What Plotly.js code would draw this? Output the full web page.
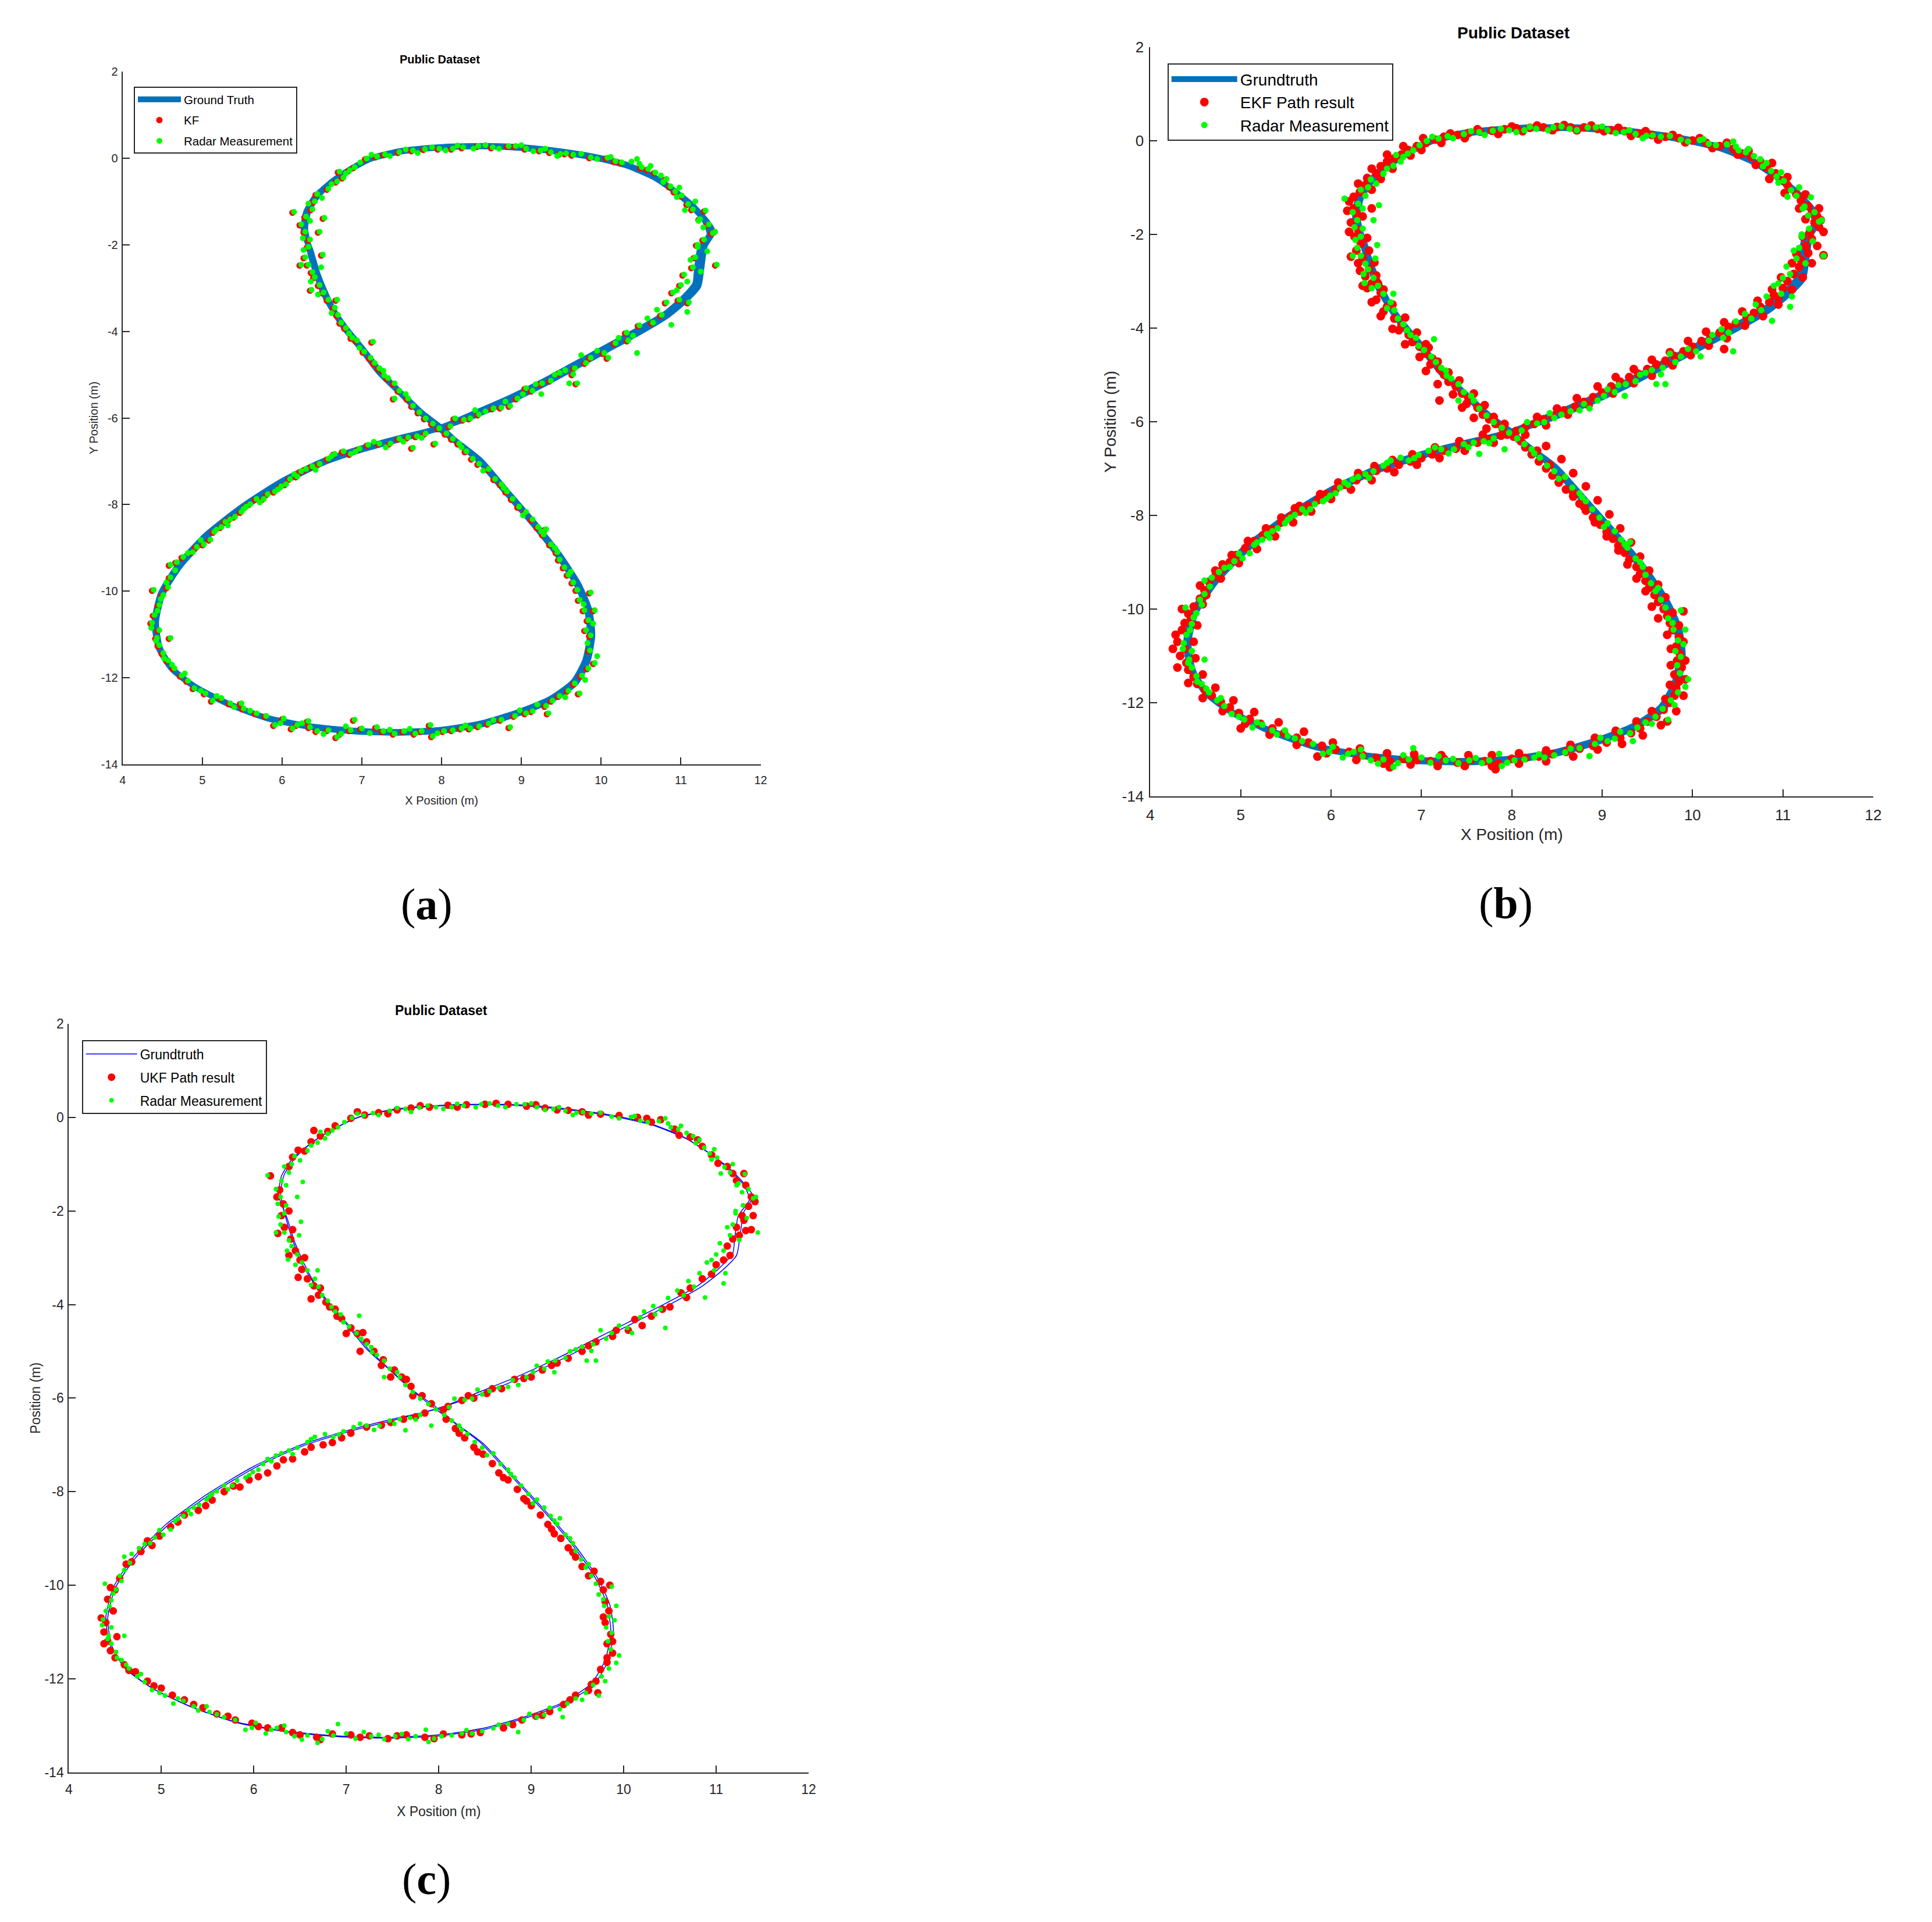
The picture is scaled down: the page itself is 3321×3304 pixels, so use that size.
<!DOCTYPE html>
<html>
<head>
<meta charset="utf-8">
<script src="https://cdn.plot.ly/plotly-3.0.1.min.js"></script>
<style>html,body{margin:0;padding:0;background:#fff}#chart{width:3321px;height:3304px}</style>
</head>
<body>
<div id="chart"></div>
<script>
// ---------------- DATA ----------------
const xTickVals = [4,5,6,7,8,9,10,11,12];
const xTickText = ['4','5','6','7','8','9','10','11','12'];
const yTickVals = [-14,-12,-10,-8,-6,-4,-2,0,2];
const yTickText = ['-14','-12','-10','-8','-6','-4','-2','0','2'];

// Ground truth path, lap 1 and lap 2 (x, y in metres)
const gtLap1 = [[7.97,-6.24],[7.72,-5.85],[7.47,-5.40],[7.22,-4.95],[7.00,-4.42],[6.80,-3.97],[6.66,-3.58],[6.52,-3.12],[6.42,-2.62],[6.34,-2.10],[6.29,-1.62],[6.33,-1.22],[6.45,-0.86],[6.62,-0.55],[6.85,-0.26],[7.14,0.01],[7.47,0.16],[7.80,0.23],[8.14,0.27],[8.59,0.28],[9.03,0.25],[9.48,0.16],[9.92,0.03],[10.30,-0.14],[10.65,-0.42],[10.92,-0.76],[11.12,-1.08],[11.30,-1.45],[11.36,-1.76],[11.24,-2.10],[11.20,-2.60],[11.18,-2.90],[11.02,-3.25],[10.80,-3.60],[10.45,-3.98],[10.05,-4.38],[9.65,-4.78],[9.25,-5.18],[8.85,-5.54],[8.40,-5.90],[7.97,-6.24],[7.50,-6.45],[7.00,-6.70],[6.50,-7.01],[6.00,-7.46],[5.50,-8.05],[5.05,-8.70],[4.70,-9.40],[4.48,-10.05],[4.40,-10.70],[4.45,-11.30],[4.62,-11.80],[4.90,-12.20],[5.30,-12.58],[5.80,-12.92],[6.35,-13.12],[6.90,-13.22],[7.45,-13.25],[8.00,-13.20],[8.50,-13.05],[8.95,-12.80],[9.35,-12.50],[9.65,-12.10],[9.80,-11.60],[9.86,-11.00],[9.82,-10.40],[9.68,-9.80],[9.45,-9.15],[9.15,-8.45],[8.80,-7.70],[8.45,-6.95],[8.15,-6.50],[7.97,-6.24]];
const gtLap2 = [[7.99,-6.22],[7.75,-5.88],[7.50,-5.44],[7.25,-4.98],[7.03,-4.45],[6.83,-4.00],[6.68,-3.62],[6.55,-3.15],[6.44,-2.65],[6.36,-2.15],[6.27,-1.68],[6.30,-1.25],[6.42,-0.88],[6.60,-0.58],[6.82,-0.30],[7.10,-0.02],[7.45,0.14],[7.80,0.22],[8.14,0.26],[8.59,0.27],[9.03,0.23],[9.48,0.14],[9.92,0.01],[10.32,-0.17],[10.68,-0.46],[10.95,-0.80],[11.16,-1.12],[11.34,-1.50],[11.40,-1.70],[11.30,-2.02],[11.26,-2.50],[11.22,-2.95],[11.06,-3.28],[10.84,-3.62],[10.48,-4.02],[10.08,-4.42],[9.68,-4.82],[9.28,-5.22],[8.88,-5.58],[8.43,-5.93],[7.99,-6.22],[7.52,-6.47],[7.02,-6.72],[6.52,-7.03],[6.02,-7.48],[5.52,-8.07],[5.07,-8.72],[4.72,-9.42],[4.50,-10.07],[4.42,-10.72],[4.47,-11.32],[4.64,-11.82],[4.92,-12.22],[5.32,-12.60],[5.82,-12.94],[6.37,-13.14],[6.92,-13.24],[7.47,-13.27],[8.02,-13.22],[8.52,-13.07],[8.97,-12.82],[9.37,-12.52],[9.68,-12.12],[9.83,-11.62],[9.89,-11.02],[9.85,-10.42],[9.71,-9.82],[9.48,-9.17],[9.18,-8.47],[8.83,-7.72],[8.48,-6.97],[8.17,-6.52],[7.99,-6.22]];

// Radar measurements (shared by all three panels)
const radarPts = [[7.06,-0.01],[7.19,0.04],[7.29,0.09],[7.47,0.14],[7.64,0.18],[7.79,0.21],[7.97,0.22],[8.14,0.22],[8.27,0.25],[8.46,0.28],[8.64,0.25],[8.84,0.28],[8.93,0.28],[9.06,0.22],[9.24,0.18],[9.37,0.14],[9.49,0.10],[9.56,0.11],[9.65,0.08],[9.87,0.02],[10.08,0.01],[10.18,-0.07],[10.26,-0.10],[10.48,-0.13],[10.51,-0.21],[10.59,-0.25],[10.68,-0.33],[10.82,-0.48],[10.87,-0.65],[10.93,-0.77],[11.01,-0.86],[11.09,-1.06],[11.15,-1.18],[11.24,-1.41],[11.31,-1.21],[11.35,-1.53],[11.40,-1.73],[11.43,-1.70],[11.29,-1.88],[11.21,-2.00],[11.18,-2.29],[11.21,-2.05],[11.45,-2.46],[11.15,-2.52],[11.04,-2.69],[11.00,-2.93],[10.90,-3.10],[11.10,-3.33],[10.98,-3.27],[10.82,-3.33],[10.76,-3.62],[10.65,-3.80],[10.48,-3.86],[10.32,-4.03],[10.34,-4.21],[10.18,-4.27],[10.04,-4.50],[10.09,-4.61],[9.87,-4.61],[9.81,-4.73],[9.67,-4.85],[9.65,-4.99],[9.70,-5.20],[9.48,-4.96],[9.37,-5.14],[9.26,-5.20],[9.14,-5.37],[9.06,-5.31],[8.95,-5.55],[8.86,-5.72],[8.75,-5.76],[8.65,-5.78],[8.47,-5.92],[8.36,-6.01],[8.28,-6.04],[8.17,-6.01],[8.11,-6.19],[10.45,-4.50],[10.88,-3.85],[11.08,-3.55],[10.95,-0.90],[11.22,-1.45],[9.25,-5.45],[9.60,-5.20],
[7.97,-6.24],[7.89,-6.13],[7.80,-6.01],[7.72,-5.87],[7.64,-5.72],[7.58,-5.55],[7.47,-5.37],[7.41,-5.20],[7.33,-5.08],[7.27,-4.91],[7.22,-4.85],[7.16,-4.73],[7.11,-4.61],[7.03,-4.47],[6.94,-4.21],[6.88,-4.15],[6.80,-3.92],[6.74,-3.80],[6.70,-3.62],[6.66,-3.45],[6.58,-3.27],[6.52,-3.10],[6.47,-2.93],[6.41,-2.75],[6.38,-2.63],[6.33,-2.46],[6.29,-2.29],[6.33,-2.05],[6.35,-1.88],[6.29,-1.70],[6.24,-1.53],[6.30,-1.35],[6.38,-1.18],[6.41,-1.00],[6.44,-0.83],[6.58,-0.71],[6.69,-0.54],[6.77,-0.45],[6.85,-0.28],[6.72,-0.31],[6.91,-0.21],
[6.15,-1.24],[6.53,-1.38],[6.51,-2.23],[6.49,-2.52],[6.47,-1.70],[6.37,-3.04],[7.14,-4.24],[6.69,-3.27],[7.41,-5.55],[6.24,-2.46],
[8.06,-6.36],[8.14,-6.48],[8.22,-6.59],[8.31,-6.77],[8.39,-6.94],[8.47,-7.06],[8.59,-7.18],[8.67,-7.41],[8.75,-7.53],[8.82,-7.70],[8.89,-7.87],[8.97,-8.05],[9.06,-8.17],[9.14,-8.34],[9.21,-8.52],[9.28,-8.69],[9.31,-8.57],[9.37,-8.92],[9.45,-9.10],[9.48,-9.27],[9.54,-9.45],[9.59,-9.62],[9.65,-9.80],[9.70,-9.97],[9.73,-10.20],[9.79,-10.44],[9.84,-10.67],[9.87,-10.03],[9.92,-10.44],[9.81,-10.90],[9.87,-11.02],[9.86,-11.37],[9.92,-11.66],[9.84,-11.78],[9.76,-11.95],[9.67,-12.13],[9.73,-12.36],[9.59,-12.30],[9.48,-12.42],[9.39,-12.53],[9.31,-12.65],[9.34,-12.82],[9.14,-12.77],[9.06,-12.82],[8.92,-12.88],[8.86,-13.14],[8.75,-12.97],[8.59,-13.06],[8.47,-13.12],[8.36,-13.17],[8.25,-13.17],[8.14,-13.21],[8.03,-13.23],[7.89,-13.35],[7.86,-13.09],[7.75,-13.23],[7.67,-13.29],[7.53,-13.23],[7.41,-13.29],[7.27,-13.23],[7.19,-13.14],[7.00,-13.17],[6.91,-12.97],[6.86,-13.21],[6.74,-13.29],[6.69,-13.37],[6.58,-13.21],[6.44,-13.23],[6.35,-13.14],[6.33,-13.00],[6.19,-13.09],[6.13,-13.17],[6.02,-12.94],[5.91,-13.09],[5.80,-12.88],[5.68,-12.82],[5.52,-12.71],[5.49,-12.59],[5.35,-12.59],[5.24,-12.47],[5.13,-12.53],[5.04,-12.36],[4.90,-12.24],[4.82,-12.07],[4.74,-11.95],[4.65,-11.78],[4.57,-11.60],[4.51,-11.43],[4.46,-11.25],[4.43,-11.08],[4.46,-10.90],[4.37,-10.73],[4.60,-11.08],[4.40,-10.55],[4.46,-10.32],[4.39,-9.97],[4.51,-10.09],[4.57,-9.91],[4.60,-9.68],[4.60,-9.39],[4.68,-9.33],[4.76,-9.21],[4.88,-9.10],[4.93,-8.98],[5.02,-8.92],[5.10,-8.81],[5.15,-8.63],[5.24,-8.52],[5.29,-8.40],[5.35,-8.34],[5.41,-8.28],[5.49,-8.17],[5.55,-8.05],[5.60,-7.99],[5.68,-7.87],[5.77,-7.87],[5.82,-7.76],[5.91,-7.70],[5.99,-7.58],[6.05,-7.53],[6.10,-7.41],[6.19,-7.35],[6.24,-7.23],[6.30,-7.18],[6.38,-7.12],[6.47,-7.06],[6.58,-6.94],[6.66,-6.83],[6.77,-6.77],[6.86,-6.83],[6.97,-6.71],[7.08,-6.62],[7.22,-6.59],[7.36,-6.59],[7.47,-6.48],[7.58,-6.45],[7.69,-6.42],[7.80,-6.36],[7.64,-6.69],[7.92,-6.59],
[7.12,0.08],[7.35,0.05],[7.55,0.20],[7.70,0.12],[7.88,0.25],[8.05,0.18],[8.20,0.29],[8.40,0.22],[8.55,0.30],[8.72,0.22],[9.00,0.30],[9.15,0.16],[9.30,0.22],[9.45,0.05],[9.75,0.10],[9.95,-0.02],[10.12,0.03],[10.38,-0.08],[10.45,-0.02],[10.62,-0.18],[10.75,-0.40],[10.78,-0.55],[10.98,-0.68],[11.05,-1.20],[11.18,-1.00],[11.28,-1.60],[11.33,-2.15],[11.12,-2.35],[11.25,-2.62],[11.08,-2.85],[10.95,-3.05],[10.70,-3.50],[10.58,-3.70],[10.40,-4.10],[10.22,-4.15],[9.95,-4.45],[9.75,-4.55],[9.55,-4.90],[9.42,-5.00],[9.18,-5.22],[9.02,-5.45],[8.80,-5.62],[8.55,-5.85],[8.42,-5.82],
[6.97,-4.38],[6.84,-4.05],[6.62,-3.58],[6.45,-3.15],[6.36,-2.85],[6.27,-2.12],[6.26,-1.85],[6.35,-1.45],[6.33,-1.05],[6.50,-0.92],[6.62,-0.60],[6.80,-0.35],[6.98,-0.10],[7.55,-5.45],[7.28,-5.02],
[8.25,-6.68],[8.52,-7.22],[8.78,-7.62],[9.02,-8.25],[9.25,-8.62],[9.42,-9.00],[9.62,-9.55],[9.78,-10.30],[9.90,-10.75],[9.83,-11.20],[9.95,-11.50],[9.80,-12.05],[9.55,-12.45],[9.20,-12.62],[8.98,-12.75],[8.65,-12.98],[8.30,-13.10],[7.95,-13.28],[7.60,-13.18],[7.35,-13.20],[7.10,-13.28],[6.80,-13.12],[6.52,-13.30],[6.25,-13.05],[5.98,-13.05],[5.60,-12.76],[5.40,-12.68],[5.18,-12.42],[4.98,-12.30],[4.78,-11.90],[4.62,-11.70],[4.52,-11.55],[4.42,-11.15],[4.36,-10.85],[4.44,-10.45],[4.48,-10.18],[4.55,-9.80],[4.66,-9.52],[4.82,-9.12],[4.98,-8.82],[5.18,-8.58],[5.32,-8.48],[5.52,-8.10],[5.72,-7.95],[5.95,-7.65],[6.15,-7.30],[6.42,-7.20],[6.62,-6.88],[6.92,-6.78],[7.15,-6.55],[7.30,-6.68],[7.52,-6.55],[7.75,-6.46]];

// KF estimates (panel a)
const kfPts = [[7.04,-0.03],[7.27,0.07],[7.62,0.16],[7.95,0.20],[8.25,0.23],[8.62,0.23],[8.91,0.26],[9.22,0.16],[9.47,0.08],[9.63,0.06],[10.06,-0.01],[10.24,-0.12],[10.49,-0.23],[10.66,-0.35],[10.85,-0.67],[10.99,-0.88],[11.13,-1.20],[11.29,-1.23],[11.38,-1.75],[11.27,-1.90],[11.16,-2.31],[11.43,-2.48],[11.02,-2.71],[10.88,-3.12],[10.96,-3.29],[10.74,-3.64],[10.46,-3.88],[10.32,-4.23],[10.02,-4.52],[9.85,-4.63],[9.65,-4.87],[9.68,-5.22],[9.35,-5.16],[9.12,-5.39],[8.93,-5.57],[8.73,-5.78],[8.45,-5.94],[8.26,-6.06],[8.09,-6.21],[7.87,-6.15],[7.70,-5.89],[7.56,-5.57],[7.39,-5.22],[7.25,-4.93],[7.14,-4.75],[7.01,-4.49],[6.86,-4.17],[6.72,-3.82],[6.64,-3.47],[6.50,-3.12],[6.39,-2.77],[6.31,-2.48],[6.31,-2.07],[6.27,-1.72],[6.28,-1.37],[6.39,-1.02],[6.56,-0.73],[6.75,-0.47],[6.70,-0.33],[6.13,-1.26],[6.51,-1.40],[6.49,-2.25],[6.45,-1.72],[7.12,-4.26],[7.39,-5.57],[8.04,-6.38],[8.20,-6.61],[8.37,-6.96],[8.57,-7.20],[8.73,-7.55],[8.87,-7.89],[9.04,-8.19],[9.19,-8.54],[9.29,-8.59],[9.43,-9.12],[9.52,-9.47],[9.63,-9.82],[9.71,-10.22],[9.82,-10.69],[9.90,-10.46],[9.85,-11.04],[9.90,-11.68],[9.74,-11.97],[9.71,-12.38],[9.46,-12.44],[9.29,-12.67],[9.12,-12.79],[8.90,-12.90],[8.73,-12.99],[8.45,-13.14],[8.23,-13.19],[8.01,-13.25],[7.84,-13.11],[7.65,-13.31],[7.39,-13.31],[7.17,-13.16],[6.89,-12.99],[6.72,-13.31],[6.56,-13.23],[6.33,-13.16],[6.17,-13.11],[6.00,-12.96],[5.78,-12.90],[5.50,-12.73],[5.33,-12.61],[5.11,-12.55],[4.88,-12.26],[4.72,-11.97],[4.55,-11.62],[4.44,-11.27],[4.44,-10.92],[4.35,-10.75],[4.38,-10.57],[4.37,-9.99],[4.55,-9.93],[4.58,-9.41],[4.74,-9.23],[4.91,-9.00],[5.08,-8.83],[5.22,-8.54],[5.33,-8.36],[5.47,-8.19],[5.58,-8.01],[5.75,-7.89],[5.89,-7.72],[6.03,-7.55],[6.17,-7.37],[6.28,-7.20],[6.45,-7.08],[6.64,-6.85],[6.84,-6.85],[7.06,-6.64],[7.34,-6.61],[7.56,-6.47],[7.78,-6.38],[7.62,-6.71],
[7.17,0.02],[7.45,0.12],[7.77,0.19],[8.12,0.20],[8.44,0.26],[8.82,0.26],[9.04,0.20],[9.35,0.12],[9.54,0.09],[9.85,0.00],[10.16,-0.09],[10.57,-0.27],[10.80,-0.50],[10.91,-0.79],[11.07,-1.08],[11.22,-1.43],[11.33,-1.55],[11.41,-1.72],[11.19,-2.02],[11.13,-2.54],[10.98,-2.95],[11.08,-3.35],[10.80,-3.35],[10.63,-3.82],[10.30,-4.05],[10.16,-4.29],[10.07,-4.63],[9.79,-4.75],[9.63,-5.01],[9.46,-4.98],[9.24,-5.22],[9.04,-5.33],[8.84,-5.74],[8.63,-5.80],[8.34,-6.03],[8.15,-6.03],[7.95,-6.26],[7.78,-6.03],[7.62,-5.74],[7.45,-5.39],[7.31,-5.10],[7.20,-4.87],[7.09,-4.63],[6.92,-4.23],[6.78,-3.94],[6.68,-3.64],[6.56,-3.29],[6.45,-2.95],[6.36,-2.65],[6.27,-2.31],[6.33,-1.90],[6.22,-1.55],[6.36,-1.20],[6.42,-0.85],[6.67,-0.56],[6.83,-0.30],[6.89,-0.23],[6.35,-3.06],[6.67,-3.29],[6.22,-2.48],
[8.12,-6.50],[8.29,-6.79],[8.45,-7.08],[8.65,-7.43],[8.80,-7.72],[8.95,-8.07],[9.12,-8.36],[9.26,-8.71],[9.35,-8.94],[9.46,-9.29],[9.57,-9.64],[9.68,-9.99],[9.77,-10.46],[9.85,-10.05],[9.79,-10.92],[9.84,-11.39],[9.82,-11.80],[9.65,-12.15],[9.57,-12.32],[9.37,-12.55],[9.32,-12.84],[9.04,-12.84],[8.84,-13.16],[8.57,-13.08],[8.34,-13.19],[8.12,-13.23],[7.87,-13.37],[7.73,-13.25],[7.51,-13.25],[7.25,-13.25],[6.98,-13.19],[6.84,-13.23],[6.67,-13.39],[6.42,-13.25],[6.31,-13.02],[6.11,-13.19],[5.89,-13.11],[5.66,-12.84],[5.47,-12.61],[5.22,-12.49],[5.02,-12.38],[4.80,-12.09],[4.63,-11.80],[4.49,-11.45],[4.41,-11.10],[4.58,-11.10],[4.44,-10.34],[4.49,-10.11],[4.58,-9.70],[4.66,-9.35],[4.86,-9.12],[5.00,-8.94],[5.13,-8.65],[5.27,-8.42],[5.39,-8.30],[5.53,-8.07],[5.66,-7.89],[5.80,-7.78],[5.97,-7.60],[6.08,-7.43],[6.22,-7.25],[6.36,-7.14],[6.56,-6.96],[6.75,-6.79],[6.95,-6.73],[7.20,-6.61],[7.45,-6.50],[7.67,-6.44],[7.90,-6.61]];

// EKF path results (panel b)
const ekfPts = [[6.20,-1.30],[6.25,-1.45],[6.28,-1.55],[6.22,-1.75],[6.30,-1.90],[6.26,-2.05],[6.33,-2.20],[6.28,-2.35],[6.35,-2.50],[6.30,-2.62],[6.42,-2.75],[6.38,-2.90],[6.45,-3.05],[6.40,-3.15],[6.55,-3.25],[6.50,-3.40],[6.62,-3.55],[6.58,-3.65],[6.70,-3.80],[6.78,-3.95],[6.75,-4.05],[6.86,-4.15],[6.90,-4.30],[6.98,-4.40],[7.05,-4.55],[7.12,-4.65],[7.10,-4.78],[7.20,-4.88],[7.25,-5.00],[7.30,-5.15],[7.38,-5.25],[7.45,-5.40],[7.52,-5.50],[7.50,-5.62],[7.62,-5.70],[7.68,-5.85],[7.75,-5.95],[7.82,-6.05],[7.90,-6.15],[7.95,-6.28],[8.02,-6.32],[8.10,-6.42],
[6.32,-1.10],[6.38,-0.95],[6.40,-0.80],[6.50,-0.70],[6.55,-0.55],[6.62,-0.45],[6.70,-0.38],[6.78,-0.30],[6.85,-0.20],[6.95,-0.12],[7.05,-0.05],[7.15,0.02],[7.25,0.08],[7.40,0.12],[7.52,0.16],[7.65,0.19],[7.78,0.21],[7.92,0.24],[8.05,0.26],[8.20,0.27],[8.35,0.28],[8.50,0.29],[8.65,0.28],[8.80,0.28],[8.95,0.25],[9.10,0.22],[9.25,0.20],[9.40,0.15],[9.55,0.12],[9.70,0.08],[9.85,0.05],[10.00,0.00],[10.15,-0.05],[10.30,-0.12],[10.45,-0.18],[10.55,-0.28],[10.65,-0.35],[10.75,-0.45],[10.82,-0.58],[10.92,-0.70],[10.98,-0.85],[11.05,-0.95],[11.15,-1.15],[11.20,-1.28],[11.28,-1.40],[11.32,-1.55],[11.38,-1.62],[11.35,-1.75],[11.40,-1.85],[11.30,-1.95],[11.32,-2.10],[11.25,-2.25],[11.28,-2.40],[11.20,-2.55],[11.18,-2.70],[11.12,-2.85],[11.05,-3.00],[11.00,-3.15],[10.90,-3.30],[10.85,-3.45],[10.75,-3.55],[10.68,-3.68],[10.60,-3.78],[10.48,-3.90],[10.40,-3.98],[10.30,-4.10],[10.20,-4.18],[10.10,-4.28],[10.00,-4.40],[9.90,-4.50],[9.80,-4.60],[9.70,-4.70],[9.60,-4.78],[9.50,-4.88],[9.40,-4.98],[9.30,-5.05],[9.20,-5.15],[9.10,-5.25],[9.00,-5.38],[8.90,-5.48],[8.80,-5.58],[8.70,-5.68],[8.58,-5.76],[8.45,-5.88],[8.35,-5.95],[8.25,-6.05],[8.15,-6.12],[8.05,-6.20],
[6.45,-1.45],[11.42,-1.70],[11.45,-2.45],[10.95,-3.35],[10.35,-4.45],[6.48,-2.60],[6.52,-3.05],[7.05,-4.35],[7.20,-5.55],
[7.88,-6.30],[7.75,-6.38],[7.62,-6.45],[7.50,-6.50],[7.38,-6.58],[7.25,-6.62],[7.12,-6.70],[7.00,-6.78],[6.88,-6.85],[6.75,-6.92],[6.62,-7.00],[6.50,-7.05],[6.40,-7.15],[6.28,-7.25],[6.15,-7.35],[6.05,-7.45],[5.95,-7.55],[5.85,-7.68],[5.75,-7.80],[5.65,-7.92],[5.55,-8.02],[5.45,-8.15],[5.35,-8.30],[5.25,-8.42],[5.15,-8.55],[5.05,-8.70],[4.95,-8.85],[4.88,-9.00],[4.80,-9.15],[4.72,-9.30],[4.65,-9.42],[4.60,-9.60],[4.55,-9.78],[4.48,-9.95],[4.42,-10.10],[4.38,-10.30],[4.35,-10.45],[4.30,-10.70],[4.38,-10.85],[4.33,-11.00],[4.40,-11.15],[4.42,-11.30],[4.48,-11.45],[4.52,-11.60],[4.60,-11.72],[4.68,-11.85],[4.78,-11.98],[4.88,-12.10],[4.98,-12.22],[5.10,-12.35],[5.22,-12.45],[5.35,-12.55],[5.48,-12.65],[5.62,-12.75],[5.75,-12.85],[5.90,-12.92],[6.05,-13.00],[6.20,-13.05],[6.35,-13.12],[6.50,-13.18],[6.65,-13.25],[6.80,-13.20],[6.95,-13.22],[7.10,-13.25],[7.25,-13.20],[7.40,-13.28],[7.55,-13.22],[7.70,-13.25],[7.85,-13.30],[8.00,-13.20],[8.15,-13.18],[8.30,-13.15],[8.45,-13.10],[8.60,-13.05],[8.75,-12.98],[8.90,-12.92],[9.05,-12.85],[9.20,-12.75],[9.32,-12.65],[9.42,-12.55],[9.50,-12.40],[9.60,-12.30],[9.68,-12.15],[9.75,-12.00],[9.80,-11.85],[9.82,-11.70],[9.85,-11.55],[9.80,-11.40],[9.88,-11.25],[9.83,-11.10],[9.86,-10.95],[9.82,-10.80],[9.85,-10.60],[9.78,-10.45],[9.75,-10.30],[9.72,-10.15],[9.68,-10.00],[9.62,-9.85],[9.58,-9.70],[9.52,-9.55],[9.48,-9.40],[9.42,-9.25],[9.38,-9.10],[9.30,-8.95],[9.25,-8.80],[9.18,-8.65],[9.12,-8.50],[9.05,-8.35],[8.98,-8.20],[8.90,-8.05],[8.82,-7.90],[8.75,-7.75],[8.68,-7.60],[8.60,-7.45],[8.52,-7.30],[8.45,-7.15],[8.38,-7.00],[8.30,-6.85],[8.22,-6.70],[8.15,-6.55],
[4.35,-10.00],[4.55,-9.50],[5.85,-13.15],[6.65,-13.38],[7.82,-13.42],[9.90,-10.05],[9.72,-12.40],[5.00,-12.55],[5.60,-7.85],[4.80,-9.05],
[6.18,-1.50],[6.35,-1.62],[6.20,-1.95],[6.40,-2.08],[6.22,-2.48],[6.42,-2.35],[6.32,-2.78],[6.50,-2.88],[6.35,-3.10],[6.58,-3.18],[6.45,-3.45],[6.68,-3.50],[6.55,-3.75],[6.82,-3.78],[6.68,-4.02],[6.95,-4.10],[6.82,-4.35],[7.08,-4.42],[6.98,-4.62],[7.18,-4.72],[7.05,-4.92],[7.30,-4.95],[7.18,-5.20],[7.42,-5.12],[7.35,-5.42],[7.58,-5.40],[7.45,-5.70],[7.70,-5.65],[7.58,-5.92],[7.80,-5.90],[7.72,-6.15],[7.92,-6.05],
[6.25,-1.20],[6.45,-1.05],[6.30,-0.92],[6.55,-0.82],[6.45,-0.60],[6.68,-0.60],[6.62,-0.30],[6.88,-0.32],[6.80,-0.12],[7.00,-0.20],[7.02,0.05],[7.22,-0.05],[7.32,0.15],[7.48,0.05],[7.62,0.24],[7.85,0.14],[8.00,0.30],[8.12,0.20],[8.28,0.32],[8.45,0.22],[8.58,0.33],[8.72,0.22],[8.88,0.32],[9.02,0.20],[9.18,0.27],[9.32,0.10],[9.48,0.20],[9.62,0.02],[9.78,0.12],[9.92,-0.04],[10.08,0.05],[10.22,-0.16],[10.38,-0.05],[10.50,-0.30],[10.62,-0.22],[10.70,-0.52],[10.88,-0.48],[10.85,-0.82],[11.05,-0.78],[11.02,-1.12],[11.25,-1.15],[11.18,-1.45],[11.40,-1.45],[11.25,-1.68],[11.45,-1.95],[11.22,-2.05],[11.38,-2.25],[11.15,-2.42],[11.32,-2.62],[11.10,-2.62],[11.22,-2.92],[10.98,-2.92],[11.10,-3.18],[10.88,-3.18],[10.95,-3.50],[10.72,-3.42],[10.78,-3.75],[10.55,-3.65],[10.58,-3.95],[10.35,-3.88],[10.38,-4.22],[10.15,-4.08],[10.18,-4.38],[9.95,-4.28],[9.98,-4.58],[9.75,-4.52],[9.78,-4.80],[9.55,-4.68],[9.55,-5.02],[9.35,-4.88],[9.35,-5.18],[9.15,-5.05],[9.12,-5.40],[8.95,-5.25],[8.85,-5.65],[8.72,-5.50],[8.62,-5.85],[8.50,-5.72],[8.38,-6.08],[8.28,-5.90],[8.15,-6.28],
[7.80,-6.45],[7.68,-6.28],[7.48,-6.62],[7.42,-6.42],[7.20,-6.78],[7.15,-6.55],[6.95,-6.92],[6.90,-6.70],[6.70,-7.08],[6.68,-6.82],[6.45,-7.25],[6.48,-6.95],[6.22,-7.45],[6.30,-7.10],[6.00,-7.65],[6.08,-7.30],[5.78,-7.92],[5.88,-7.55],[5.58,-8.15],[5.65,-7.80],[5.38,-8.45],[5.45,-8.05],[5.18,-8.72],[5.28,-8.28],[4.98,-9.02],[5.08,-8.55],[4.78,-9.35],[4.90,-8.85],[4.62,-9.70],[4.72,-9.18],[4.45,-10.20],[4.58,-9.90],[4.28,-10.55],[4.52,-10.35],[4.25,-10.85],[4.48,-10.70],[4.30,-11.25],[4.50,-11.05],[4.42,-11.58],[4.58,-11.40],[4.58,-11.90],[4.72,-11.68],[4.80,-12.18],[4.92,-11.95],[5.05,-12.45],[5.15,-12.20],[5.32,-12.68],[5.42,-12.42],[5.62,-12.90],[5.70,-12.62],[5.95,-13.08],[6.02,-12.85],[6.28,-13.22],[6.32,-12.98],[6.58,-13.30],[6.62,-13.08],[6.88,-13.32],[6.92,-13.10],[7.18,-13.35],[7.22,-13.12],[7.48,-13.35],[7.52,-13.12],[7.78,-13.35],[7.78,-13.12],[8.08,-13.30],[8.08,-13.08],[8.38,-13.25],[8.38,-13.02],[8.68,-13.15],[8.65,-12.90],[8.95,-13.00],[8.92,-12.75],[9.22,-12.88],[9.15,-12.60],[9.45,-12.70],[9.38,-12.40],[9.65,-12.48],[9.55,-12.18],[9.82,-12.18],[9.70,-11.92],[9.90,-11.85],[9.75,-11.62],[9.92,-11.50],[9.76,-11.20],[9.92,-11.10],[9.76,-10.85],[9.90,-10.70],[9.72,-10.55],[9.85,-10.35],[9.62,-10.20],[9.78,-10.08],[9.55,-9.95],[9.70,-9.75],[9.48,-9.62],[9.62,-9.48],[9.38,-9.35],[9.52,-9.18],[9.28,-9.05],[9.42,-8.88],[9.18,-8.75],[9.32,-8.58],[9.05,-8.45],[9.20,-8.28],[8.92,-8.15],[9.08,-7.98],[8.80,-7.82],[8.95,-7.68],[8.68,-7.52],[8.82,-7.38],[8.55,-7.22],[8.68,-7.10],[8.42,-6.92],[8.55,-6.80],[8.28,-6.62],[8.38,-6.52]];

// UKF path results (panel c)
const ukfPts = [[6.18,-1.25],[6.28,-1.55],[6.32,-1.85],[6.30,-2.10],[6.33,-2.35],[6.40,-2.60],[6.45,-2.85],[6.50,-3.05],[6.52,-3.25],[6.58,-3.45],[6.65,-3.60],[6.70,-3.80],[6.78,-3.95],[6.88,-4.10],[6.95,-4.30],[7.05,-4.50],[7.12,-4.62],[7.22,-4.80],[7.30,-5.00],[7.40,-5.18],[7.52,-5.40],[7.60,-5.55],[7.70,-5.75],[7.82,-5.95],[7.92,-6.12],[8.05,-6.25],
[6.38,-1.05],[6.42,-0.85],[6.48,-0.70],[6.62,-0.52],[6.72,-0.40],[6.80,-0.30],[6.88,-0.18],[7.05,-0.02],[7.20,0.05],[7.35,0.10],[7.55,0.16],[7.70,0.20],[7.90,0.22],[8.10,0.26],[8.30,0.27],[8.50,0.28],[8.75,0.28],[8.95,0.24],[9.15,0.20],[9.40,0.15],[9.55,0.12],[9.75,0.07],[9.95,0.04],[10.15,0.00],[10.30,-0.10],[10.40,-0.05],[10.55,-0.25],[10.72,-0.42],[10.85,-0.62],[10.95,-0.80],[11.12,-1.05],[11.18,-1.20],[11.30,-1.20],[11.32,-1.45],[11.38,-1.70],[11.35,-1.90],[11.40,-2.10],[11.30,-2.20],[11.32,-2.42],[11.22,-2.35],[11.18,-2.60],[11.12,-2.75],[11.08,-3.05],[11.00,-3.15],[10.95,-3.35],[10.72,-3.65],[10.68,-3.85],[10.50,-4.05],[10.30,-4.25],[10.20,-4.45],[10.05,-4.55],[9.88,-4.68],[9.70,-4.80],[9.55,-5.00],[9.40,-5.15],[9.28,-5.25],[9.12,-5.40],[9.00,-5.55],[8.82,-5.60],[8.68,-5.80],[8.52,-5.90],[8.38,-6.00],[8.25,-6.05],[8.10,-6.18],
[7.85,-6.32],[7.62,-6.45],[7.38,-6.58],[7.22,-6.62],[7.05,-6.75],[6.85,-6.95],[6.75,-7.00],[6.55,-7.15],[6.42,-7.30],[6.25,-7.45],[6.15,-7.60],[5.95,-7.75],[5.85,-7.90],[5.68,-8.00],[5.55,-8.18],[5.40,-8.40],[5.25,-8.50],[5.10,-8.75],[4.98,-8.95],[4.90,-9.15],[4.78,-9.28],[4.62,-9.55],[4.55,-9.85],[4.50,-10.10],[4.42,-10.30],[4.48,-10.55],[4.40,-10.80],[4.38,-11.00],[4.42,-11.20],[4.52,-11.10],[4.50,-11.55],[4.60,-11.70],[4.72,-11.85],[4.85,-12.05],[5.00,-12.20],[5.12,-12.35],[5.25,-12.45],[5.45,-12.62],[5.60,-12.75],[5.80,-12.88],[5.98,-12.95],[6.15,-13.05],[6.30,-13.05],[6.50,-13.20],[6.68,-13.25],[6.85,-13.18],[7.05,-13.20],[7.25,-13.22],[7.45,-13.28],[7.65,-13.20],[7.85,-13.25],[8.05,-13.18],[8.25,-13.20],[8.45,-13.15],[8.70,-13.05],[8.90,-12.88],[9.05,-12.80],[9.20,-12.70],[9.35,-12.55],[9.48,-12.35],[9.62,-12.25],[9.72,-12.30],[9.70,-12.05],[9.75,-11.80],[9.82,-11.65],[9.88,-11.45],[9.82,-11.25],[9.86,-11.05],[9.80,-10.80],[9.84,-10.55],[9.80,-10.35],[9.78,-10.10],[9.75,-9.92],[9.62,-9.80],[9.55,-9.60],[9.48,-9.40],[9.40,-9.20],[9.32,-9.00],[9.25,-8.90],[9.18,-8.70],[9.10,-8.50],[9.00,-8.30],[8.92,-8.15],[8.85,-7.95],[8.75,-7.75],[8.65,-7.60],[8.58,-7.40],[8.48,-7.20],[8.38,-7.05],[8.28,-6.85],[8.18,-6.65],[8.08,-6.45],
[6.25,-1.70],[6.38,-2.00],[6.26,-2.48],[6.42,-2.40],[6.38,-2.95],[6.55,-3.00],[6.48,-3.42],[6.72,-3.65],[6.62,-3.88],[6.90,-4.25],[6.82,-4.05],[7.00,-4.62],[7.18,-4.60],[7.15,-5.00],[7.38,-5.30],[7.48,-5.55],[7.65,-5.60],[7.72,-5.95],[6.55,-0.72],[6.65,-0.28],[7.12,0.12],[7.45,0.08],[7.80,0.25],[8.20,0.22],[8.62,0.30],[9.05,0.27],[9.28,0.16],[9.62,0.05],[10.25,-0.02],[10.60,-0.38],[10.80,-0.48],[11.02,-0.98],[11.22,-1.35],[11.42,-1.80],[11.28,-2.10],[11.25,-2.52],[11.38,-2.40],[11.15,-2.95],[10.85,-3.45],[10.62,-3.75],[10.42,-4.10],[10.12,-4.32],[9.92,-4.55],[9.62,-4.88],[9.22,-5.30],[8.92,-5.58],[8.58,-5.80],[8.32,-5.95],
[7.75,-6.40],[7.48,-6.52],[6.95,-6.85],[6.62,-7.05],[6.32,-7.32],[6.05,-7.68],[5.78,-7.88],[5.48,-8.30],[5.18,-8.65],[4.85,-9.05],[4.68,-9.50],[4.45,-10.05],[4.35,-10.70],[4.38,-11.25],[4.45,-11.40],[4.65,-11.82],[4.92,-12.15],[5.35,-12.55],[5.72,-12.80],[6.05,-13.02],[6.42,-13.15],[6.72,-13.30],[7.15,-13.25],[7.55,-13.22],[7.95,-13.28],[8.35,-13.18],[8.80,-12.98],[9.12,-12.78],[9.42,-12.45],[9.65,-12.12],[9.82,-11.55],[9.88,-11.20],[9.78,-10.68],[9.85,-10.00],[9.68,-9.70],[9.45,-9.30],[9.22,-8.80],[8.95,-8.20],[8.70,-7.70],[8.42,-7.15],[8.22,-6.75]];

// ---------------- BUILD ----------------
const W = 3321, H = 3304;
const px = v => v / W;
const py = v => 1 - v / H;
const xs = a => a.map(p => p[0]);
const ys = a => a.map(p => p[1]);
const gtPts = gtLap1.concat([[null, null]], gtLap2);

const FONT = 'Liberation Sans, Arial, Helvetica, sans-serif';
const AX = '#262626';

const panels = [
  { id: '', leg: 'legend', gtName: 'Ground Truth', gtColor: '#0072BD', gtWidth: 10,
    fName: 'KF', fPts: kfPts, fSize: 11, rSize: 10, fs: 20, tfs: 20,
    box: [210.7, 1307.5, 123, 1314], title: [756, 102], xt: 18, yt: 0, yls: 2 },
  { id: '2', leg: 'legend2', gtName: 'Grundtruth', gtColor: '#0072BD', gtWidth: 11,
    fName: 'EKF Path result', fPts: ekfPts, fSize: 15, rSize: 11, fs: 26, tfs: 28,
    box: [1977.3, 3220, 80.5, 1369], title: [2601, 57], xt: 9, yt: 2, yls: 4 },
  { id: '3', leg: 'legend3', gtName: 'Grundtruth', gtColor: '#0000FF', gtWidth: 1.5,
    fName: 'UKF Path result', fPts: ukfPts, fSize: 13, rSize: 8, fs: 23, tfs: 23,
    box: [118.3, 1390, 1760, 3046.7], title: [758, 1737], xt: 18, yt: 0, yls: 2 }
];

const traces = [];
const layout = {
  width: W, height: H, margin: { l: 0, r: 0, t: 0, b: 0 },
  paper_bgcolor: '#fff', plot_bgcolor: '#fff', showlegend: true,
  annotations: [], font: { family: FONT, color: AX }
};

panels.forEach(p => {
  const xa = 'x' + p.id, ya = 'y' + p.id;
  traces.push({ type: 'scatter', mode: 'lines', name: p.gtName, x: xs(gtPts), y: ys(gtPts),
    xaxis: xa, yaxis: ya, legend: p.leg, legendgroup: p.leg + 'g', connectgaps: false,
    line: { color: p.gtColor, width: p.gtWidth, shape: 'spline', smoothing: 0.6 } });
  traces.push({ type: 'scatter', mode: 'markers', name: p.fName, x: xs(p.fPts), y: ys(p.fPts),
    xaxis: xa, yaxis: ya, legend: p.leg, legendgroup: p.leg + 'f',
    marker: { color: '#FF0000', size: p.fSize, line: { width: 0 } } });
  traces.push({ type: 'scatter', mode: 'markers', name: 'Radar Measurement', x: xs(radarPts), y: ys(radarPts),
    xaxis: xa, yaxis: ya, legend: p.leg, legendgroup: p.leg + 'r',
    marker: { color: '#00FF00', size: p.rSize, line: { width: 0 } } });

  const [l, r, t, b] = p.box;
  const common = {
    showgrid: false, zeroline: false, showline: true, linecolor: AX, linewidth: 2,
    ticks: 'inside', ticklen: 12, tickwidth: 2, tickcolor: AX, mirror: false,
    tickfont: { family: FONT, size: p.fs, color: AX }, fixedrange: true
  };
  layout['xaxis' + p.id] = Object.assign({}, common, {
    domain: [px(l), px(r)], range: [4, 12], anchor: ya,
    tickmode: 'array', tickvals: xTickVals, ticktext: xTickText, ticklabelstandoff: 8,
    title: { text: 'X Position (m)', font: { family: FONT, size: p.tfs, color: AX }, standoff: p.xt }
  });
  layout['yaxis' + p.id] = Object.assign({}, common, {
    domain: [py(b), py(t)], range: [-14, 2], anchor: xa,
    tickmode: 'array', tickvals: yTickVals, ticktext: yTickText, ticklabelstandoff: p.yls,
    title: { text: p.id === '3' ? 'Position (m)' : 'Y Position (m)', font: { family: FONT, size: p.tfs, color: AX }, standoff: p.yt }
  });
  layout.annotations.push({ xref: 'paper', yref: 'paper', x: px(p.title[0]), y: py(p.title[1]),
    xanchor: 'center', yanchor: 'middle', showarrow: false,
    text: '<b>Public Dataset</b>', font: { family: FONT, size: p.tfs, color: '#000' } });
});

layout.legend = { x: px(230), y: py(149), xanchor: 'left', yanchor: 'top', bgcolor: '#fff',
  bordercolor: AX, borderwidth: 2, itemwidth: 74, font: { family: FONT, size: 20.5, color: '#000' },
  traceorder: 'grouped', tracegroupgap: 6 };
layout.legend2 = { x: px(2006.7), y: py(109.3), xanchor: 'left', yanchor: 'top', bgcolor: '#fff',
  bordercolor: AX, borderwidth: 2, itemwidth: 113, font: { family: FONT, size: 28, color: '#000' },
  traceorder: 'grouped', tracegroupgap: 0 };
layout.legend3 = { x: px(140.7), y: py(1788.3), xanchor: 'left', yanchor: 'top', bgcolor: '#fff',
  bordercolor: AX, borderwidth: 2, itemwidth: 88, font: { family: FONT, size: 23, color: '#000' },
  traceorder: 'grouped', tracegroupgap: 7 };

// sub-figure labels
[['a', 733, 1554], ['b', 2588, 1553], ['c', 733, 3230]].forEach(([s, x, y]) => {
  layout.annotations.push({ xref: 'paper', yref: 'paper', x: px(x), y: py(y), xanchor: 'center', yanchor: 'middle',
    showarrow: false, text: '(<b>' + s + '</b>)', font: { family: 'Liberation Serif, Times New Roman, serif', size: 76, color: '#000' } });
});

Plotly.newPlot('chart', traces, layout, { staticPlot: true, displayModeBar: false });
</script>
</body>
</html>
